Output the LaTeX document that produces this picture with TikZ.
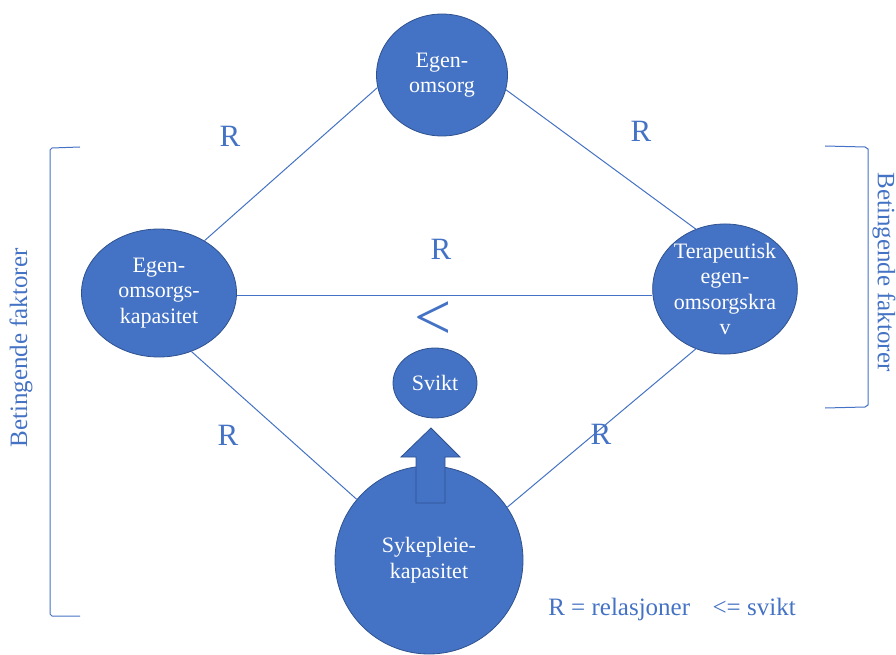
\documentclass[tikz,border=0pt]{standalone}
\usepackage{fontspec}
\setmainfont{Liberation Serif}
\usetikzlibrary{shapes.geometric}
\definecolor{ofblue}{HTML}{4472C4}
\definecolor{ofdark}{HTML}{2F528F}
\begin{document}
\begin{tikzpicture}[x=1pt,y=-1pt,
  bubble/.style={ellipse, fill=ofblue, draw=ofdark, line width=0.8pt, text=white, align=center, inner sep=0pt,
    font=\fontsize{22}{25.5}\selectfont},
  conn/.style={draw=ofblue, line width=1pt},
  rlab/.style={text=ofblue, font=\fontsize{31}{34}\selectfont},
  side/.style={text=ofblue, font=\fontsize{25}{28}\selectfont},
  brack/.style={draw=ofblue, line width=1pt}]
\useasboundingbox (0,0) rectangle (896,655);
% nodes
\node[bubble, minimum width=131pt, minimum height=122pt] (top) at (442,75) {Egen-\\omsorg};
\node[bubble, minimum width=155pt, minimum height=128pt] (left) at (159,293) {Egen-\\omsorgs-\\kapasitet};
\node[bubble, minimum width=135pt, minimum height=130pt] (right) at (725,289) {Terapeutisk\\egen-\\omsorgskra\\v};
\node[bubble, minimum width=84pt, minimum height=70pt] (svikt) at (435,383) {Svikt};
\node[bubble, minimum width=188pt, minimum height=188pt] (bottom) at (429,560) {Sykepleie-\\kapasitet};
% connectors
\draw[conn] (left.49) -- (top.191);
\draw[conn] (top.347) -- (right.116);
\draw[conn] ([yshift=-2pt]left.east) -- ([yshift=-2pt]left.east -| right.west);
\draw[conn] (left.299) -- (bottom.140);
\draw[conn] (right.244) -- (bottom.34);
% arrow
\coordinate (tip) at (431,428);
\draw[fill=ofblue, draw=ofdark, line width=0.8pt]
  (tip) -- (460,457) -- (445,457) -- (445,503) -- (416,503) -- (416,457) -- (401,457) -- cycle;
% labels
\node[rlab] (r1) at (230,136) {R};
\node[rlab] (r2) at (641,131) {R};
\node[rlab] (r3) at (441,249) {R};
\node[rlab] (r4) at (228,435) {R};
\node[rlab] (r5) at (601,434) {R};
\node[text=ofblue, font=\fontsize{66}{70}\selectfont, anchor=base] (lt) at (433,339) {<};
\node[side] (legend) at (672,609) {R = relasjoner\hspace{0.9em}<= svikt};
% brackets
\draw[brack] (80,147) -- (52,148) -- (50,150) -- (50,614) -- (52,616) -- (80,616);
\draw[brack] (825,146) -- (865,147) -- (868,149) -- (868,405) -- (865,407) -- (825,408);
\node[side, rotate=90] (lside) at (21,348) {Betingende faktorer};
\node[side, rotate=-90] (rside) at (884,272) {Betingende faktorer};
\end{tikzpicture}
\end{document}
